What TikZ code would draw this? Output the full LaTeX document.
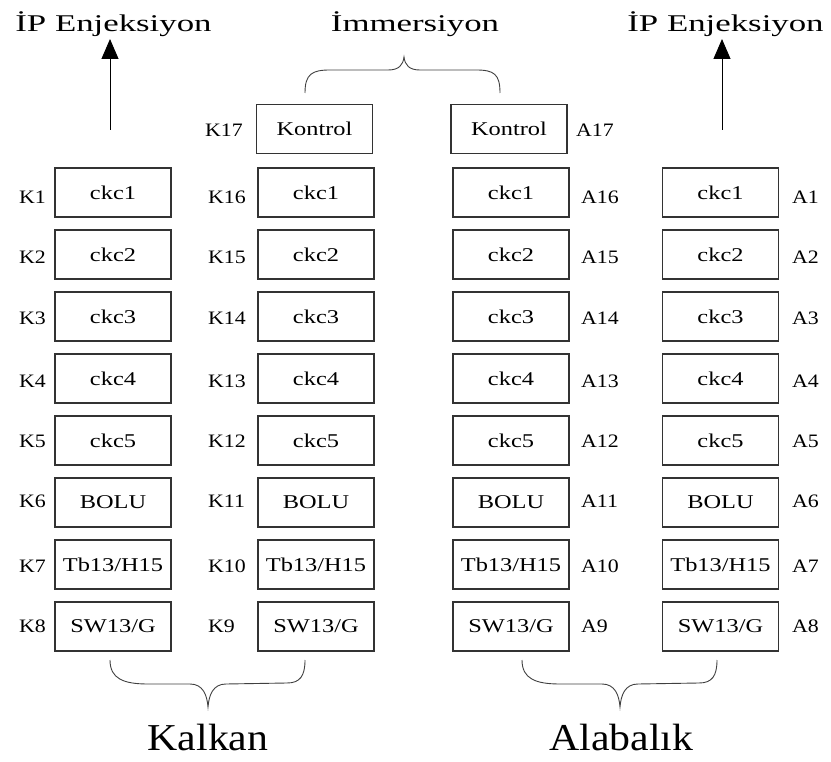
\documentclass[tikz,border=0pt]{standalone}
\usepackage{fontspec}
\setmainfont{Liberation Serif}
\newfontfamily\titlefont[FakeStretch=1.45]{Liberation Serif}
\newfontfamily\boxfont[FakeStretch=1.25]{Liberation Serif}
\newfontfamily\labfont[FakeStretch=1.15]{Liberation Serif}
\newfontfamily\bigfont[FakeStretch=1.1]{Liberation Serif}
\usetikzlibrary{arrows.meta}
\begin{document}
\begin{tikzpicture}[x=1pt,y=-1pt,
  cell/.style={draw=black!80, line width=1.1pt, minimum width=116pt, minimum height=49pt, inner sep=0pt,
    font=\boxfont\fontsize{19.5}{20}\selectfont},
  lab/.style={anchor=west, inner sep=0pt, font=\labfont\fontsize{19}{20}\selectfont},
  ttl/.style={anchor=base, inner sep=0pt, font=\titlefont\fontsize{24}{26}\selectfont},
  big/.style={anchor=base, inner sep=0pt, font=\bigfont\fontsize{38}{40}\selectfont},
  brc/.style={draw=black!75, line width=0.9pt},
  arr/.style={draw=black, line width=1pt, -{Triangle[length=20pt,width=17pt]}}]
\useasboundingbox (0,0) rectangle (831,762);

% titles
\node[ttl] (tL) at (113.5,32) {İP Enjeksiyon};
\node[ttl] (tM) at (415,32) {İmmersiyon};
\node[ttl] (tR) at (725.5,32) {İP Enjeksiyon};
\node[big] (kal) at (208,750) {Kalkan};
\node[big] (ala) at (621.5,750) {Alabalık};

% kontrol boxes
\node[cell] (k17) at (314.5,129) {Kontrol};
\node[cell] (a17) at (509,129) {Kontrol};
\node[lab] (lk17) at (205,130) {K17};
\node[lab] (la17) at (576,130) {A17};

% columns
\foreach \t [count=\i] in {ckc1,ckc2,ckc3,ckc4,ckc5,BOLU,Tb13/H15,SW13/G}{
  \pgfmathsetmacro{\yy}{192.5+62*(\i-1)}
  \node[cell] (c1r\i) at (113,\yy) {\t};
  \node[cell] (c2r\i) at (316,\yy) {\t};
  \node[cell] (c3r\i) at (511,\yy) {\t};
  \node[cell] (c4r\i) at (720.5,\yy) {\t};
}

% labels
\foreach \ly [count=\i] in {197,257.5,318,381,441,501,566,626}{
  \pgfmathtruncatemacro{\kb}{17-\i}
  \node[lab] (lk\i) at (19,\ly) {K\i};
  \node[lab] (lkb\i) at (208,\ly) {K\kb};
  \node[lab] (la\i) at (581,\ly) {A\kb};
  \node[lab] (lab\i) at (792,\ly) {A\i};
}

% arrows
\coordinate (arL0) at (110,130);
\coordinate (arL1) at (110,39);
\coordinate (arR0) at (722,130);
\coordinate (arR1) at (722,39);
\draw[arr] (arL0) -- (arL1);
\draw[arr] (arR0) -- (arR1);

% braces
\draw[brc] (305,93) .. controls (305,74) and (312,70) .. (330,70) -- (388,70)
  .. controls (399,70) and (403,65) .. (404,57)
  .. controls (405,65) and (409,70) .. (420,70) -- (476,70)
  .. controls (494,70) and (500,74) .. (500,93);
\foreach \dx in {0,412}{
  \begin{scope}[xshift=\dx]
  \draw[brc] (110,660) .. controls (110,679) and (124,684) .. (148,684) -- (190,684)
    .. controls (203,684) and (207,695) .. (208,707)
    .. controls (209,695) and (213,684) .. (226,684) -- (287,683)
    .. controls (300,683) and (305,676) .. (305,660);
  \end{scope}
}
\end{tikzpicture}
\end{document}
